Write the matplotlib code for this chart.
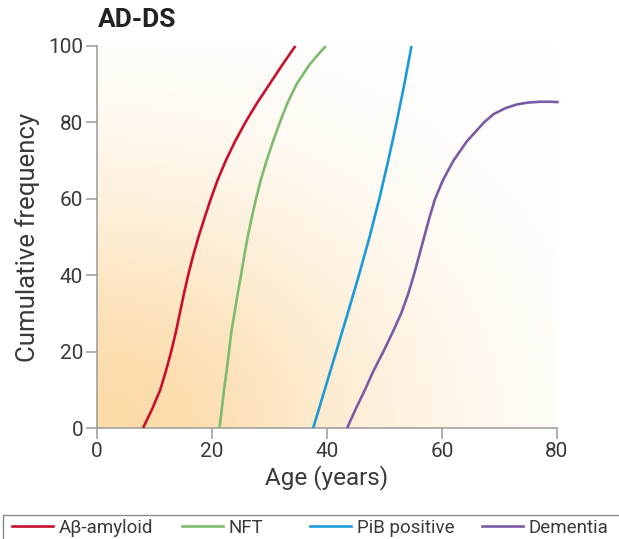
import numpy as np
import matplotlib
matplotlib.use("Agg")
import matplotlib.pyplot as plt
from matplotlib.lines import Line2D
from matplotlib.patches import Rectangle

plt.rcParams['font.family'] = ['Roboto', 'DejaVu Sans']

# ---- data ----
abeta_age = [8.0, 9.6, 11.0, 12.0, 12.9, 13.7, 14.4, 15.1, 15.85, 16.7, 17.65, 18.7,
             19.8, 21.0, 22.4, 24.0, 25.8, 27.8, 30.0, 32.2, 34.5]
abeta_val = [0, 5, 10, 15, 20, 25, 30, 35, 40, 45, 50, 55,
             60, 65, 70, 75, 80, 85, 90, 95, 100]

nft_age = [21.3, 21.7, 22.1, 22.55, 22.95, 23.35, 23.9, 24.45, 25.05, 25.6, 26.2, 26.9,
           27.65, 28.5, 29.5, 30.6, 31.8, 33.1, 34.7, 36.9, 38.3, 39.8]
nft_val = [0, 5, 10, 15, 20, 25, 30, 35, 40, 45, 50, 55,
           60, 65, 70, 75, 80, 85, 90, 95, 97.5, 100]

pib_age = [37.6, 39.6, 41.6, 43.6, 45.55, 47.4, 49.1, 50.65, 52.1, 53.45, 54.7]
pib_val = [0, 10, 20, 30, 40, 50, 60, 70, 80, 90, 100]

dem_age = [43.5, 45.0, 46.6, 48.1, 49.8, 51.4, 52.9, 54.1, 55.1, 56.0, 56.9, 57.8,
           58.8, 60.2, 62.0, 64.3, 67.3, 69.0, 71.0, 73.0, 75.0, 77.0, 79.0, 80.3]
dem_val = [0, 5, 10, 15, 20, 25, 30, 35, 40, 45, 50, 55,
           60, 65, 70, 75, 80, 82.2, 83.7, 84.7, 85.2, 85.4, 85.4, 85.3]

labels = ['Aβ-amyloid', 'NFT', 'PiB positive', 'Dementia']
colors = ['#C8102E', '#7DBB6E', '#1A9BD7', '#7A5BA6']
xticks = [0, 20, 40, 60, 80]
yticks = [0, 20, 40, 60, 80, 100]

W, H = 619, 539
fig = plt.figure(figsize=(W / 100, H / 100), dpi=100)
ax = fig.add_axes([97 / W, 1 - 428 / H, (557 - 97) / W, (428 - 46) / H])

# gradient background (orange from bottom-left fading to white)
nx, ny = 400, 400
gx = np.linspace(0, 1, nx)
gy = np.linspace(0, 1, ny)
GX, GY = np.meshgrid(gx, gy)
d = np.sqrt((GX / 1.05) ** 2 + GY ** 2)
w = np.exp(-(d / 0.62) ** 2)
orange = np.array([252, 219, 168]) / 255.0
img = np.ones((ny, nx, 3)) * (1 - w[..., None]) + orange * w[..., None]
ax.imshow(img, origin='lower', extent=[0, 80, 0, 100], aspect='auto', zorder=0)

series = [(abeta_age, abeta_val), (nft_age, nft_val), (pib_age, pib_val), (dem_age, dem_val)]
for (xa, ya), c in zip(series, colors):
    ax.plot(xa, ya, color=c, lw=1.9, solid_capstyle='butt', solid_joinstyle='round',
            clip_on=False, zorder=3)

ax.set_xlim(0, 80)
ax.set_ylim(0, 100)
ax.set_xticks(xticks)
ax.set_yticks(yticks)
for s in ['top', 'right']:
    ax.spines[s].set_visible(False)
for s in ['left', 'bottom']:
    ax.spines[s].set_color('#9a9a9a')
    ax.spines[s].set_linewidth(1.1)
ax.tick_params(axis='both', direction='out', length=8, width=1.1, color='#9a9a9a',
               labelsize=15, labelcolor='#3a3a3a', pad=2)
ax.set_xlabel('Age (years)', fontsize=17.5, color='#3a3a3a', labelpad=3)
ax.set_ylabel('Cumulative frequency', fontsize=18.5, color='#3a3a3a', labelpad=6)

fig.text(98 / W, 1 - 20 / H, 'AD-DS', fontsize=19, fontweight='bold', color='#222222',
         ha='left', va='center')

# legend frame (runs off the canvas at the bottom/right)
fig.patches.append(Rectangle((3 / W, -0.1), 1.0, 0.1 + (539 - 515) / H,
                             transform=fig.transFigure, fill=False,
                             edgecolor='#8a8a8a', lw=1.0, clip_on=False))
leg_x = [12, 182, 310, 482]
for lab, c, x0 in zip(labels, colors, leg_x):
    h = Line2D([], [], color=c, lw=1.9)
    fig.legend([h], [lab], loc='center left', bbox_to_anchor=(x0 / W, 1 - 528 / H),
               frameon=False, fontsize=13.5, handlelength=2.2, handletextpad=0.3,
               borderpad=0, borderaxespad=0, labelcolor='#3a3a3a')

fig.savefig('out.png', dpi=100)
